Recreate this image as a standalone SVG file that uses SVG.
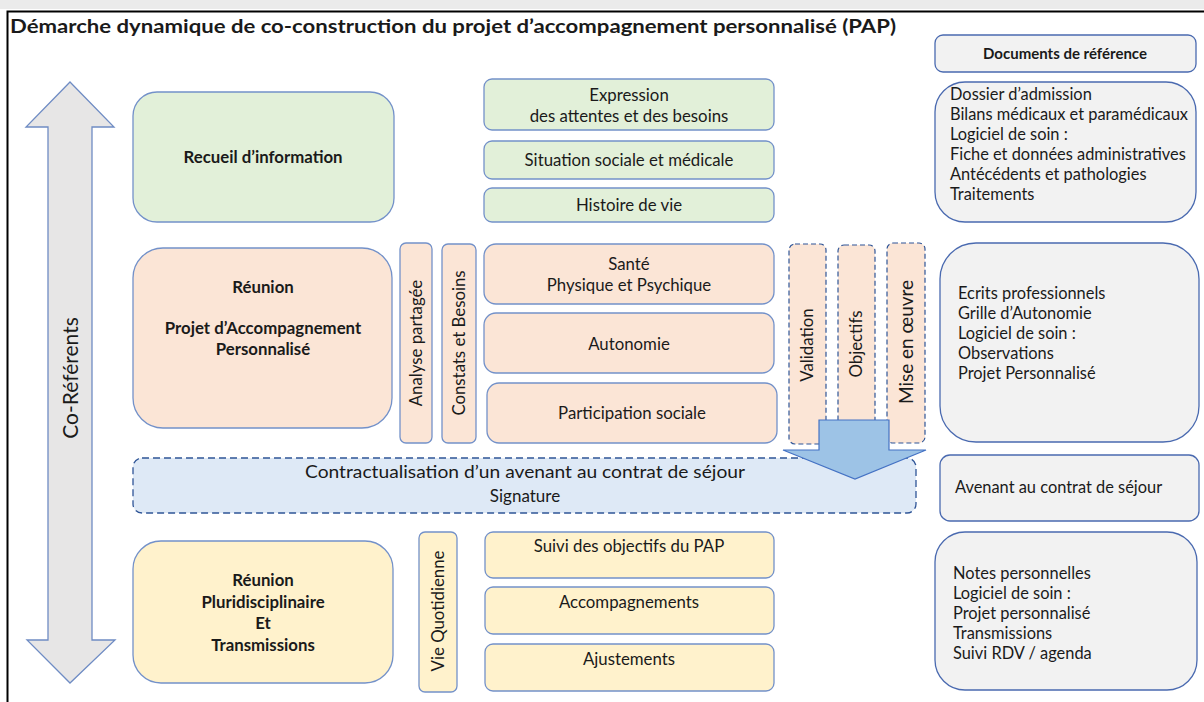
<svg xmlns="http://www.w3.org/2000/svg" width="1204" height="702" viewBox="0 0 1204 702">
<style>
text{font-family:"Lato","Liberation Sans",sans-serif;fill:#1a1a1a}
.t15{font-size:16.8px}
.t14{font-size:16.4px}
.tb{font-size:16.8px;font-weight:bold}
.c{text-anchor:middle}
.green{fill:#e2f0d9;stroke:#7391c9;stroke-width:1.3}
.peach{fill:#fbe5d6;stroke:#7391c9;stroke-width:1.3}
.peachd{fill:#fbe5d6;stroke:#2f5597;stroke-width:1.2;stroke-dasharray:5 3}
.yellow{fill:#fff2cc;stroke:#7391c9;stroke-width:1.3}
.gray{fill:#f2f2f2;stroke:#4a6ab0;stroke-width:1.3}
.blued{fill:#dee9f6;stroke:#2f5597;stroke-width:1.3;stroke-dasharray:7 4}
</style>
<rect x="0" y="0" width="1204" height="702" fill="#ffffff"/>
<rect x="0" y="0" width="1204" height="9" fill="#ebebeb"/>
<path d="M1204 11.5 H7.5 V702" fill="none" stroke="#000" stroke-width="2"/>
<text x="10" y="33" font-size="18" font-weight="bold" textLength="886" lengthAdjust="spacingAndGlyphs">Démarche dynamique de co-construction du projet d’accompagnement personnalisé (PAP)</text>

<g id="coreferents">
<path d="M70 82 L114 127 L92 127 L92 640 L115 640 L70 683 L27 640 L48 640 L48 127 L26 127 Z" fill="#e7e6e6" stroke="#6f8cc4" stroke-width="1.3"/>
<text transform="translate(78 378) rotate(-90)" font-size="21" class="c">Co-Référents</text>
</g>

<g id="recueil">
<rect x="133" y="92" width="261" height="130" rx="24" class="green"/>
<text x="263" y="163" class="tb c">Recueil d’information</text>
</g>
<g id="expression">
<rect x="484" y="79" width="290" height="51" rx="8" class="green"/>
<text x="629" y="101" class="t15 c">Expression</text>
<text x="629" y="122" class="t15 c">des attentes et des besoins</text>
</g>
<g id="situation">
<rect x="484" y="141" width="290" height="38" rx="8" class="green"/>
<text x="629" y="166" class="t15 c">Situation sociale et médicale</text>
</g>
<g id="histoire">
<rect x="484" y="188" width="290" height="34" rx="8" class="green"/>
<text x="629" y="211" class="t15 c">Histoire de vie</text>
</g>

<g id="reunion-pap">
<rect x="133" y="248" width="259" height="180" rx="30" class="peach"/>
<text x="263" y="293" class="tb c">Réunion</text>
<text x="263" y="334" class="tb c">Projet d’Accompagnement</text>
<text x="263" y="355" class="tb c">Personnalisé</text>
</g>
<g id="analyse">
<rect x="400" y="243" width="32" height="200" rx="6" class="peach"/>
<text transform="translate(422 343) rotate(-90)" class="t15 c">Analyse partagée</text>
</g>
<g id="constats">
<rect x="442" y="244" width="34" height="199" rx="6" class="peach"/>
<text transform="translate(465 343) rotate(-90)" class="t15 c">Constats et Besoins</text>
</g>
<g id="sante">
<rect x="484" y="244" width="290" height="60" rx="12" class="peach"/>
<text x="629" y="270" class="t15 c">Santé</text>
<text x="629" y="291" class="t15 c">Physique et Psychique</text>
</g>
<g id="autonomie">
<rect x="484" y="313" width="290" height="60" rx="12" class="peach"/>
<text x="629" y="350" class="t15 c">Autonomie</text>
</g>
<g id="participation">
<rect x="487" y="383" width="290" height="60" rx="12" class="peach"/>
<text x="632" y="419" class="t15 c">Participation sociale</text>
</g>
<g id="validation">
<rect x="789" y="244" width="37" height="200" rx="6" class="peachd"/>
<text transform="translate(813 345) rotate(-90)" class="t15 c">Validation</text>
</g>
<g id="objectifs">
<rect x="838" y="245" width="37" height="198" rx="6" class="peachd"/>
<text transform="translate(862 344) rotate(-90)" class="t15 c">Objectifs</text>
</g>
<g id="mise-en-oeuvre">
<rect x="887" y="243" width="38" height="200" rx="6" class="peachd"/>
<text transform="translate(913 342) rotate(-90)" font-size="19" class="c">Mise en œuvre</text>
</g>

<g id="contractualisation">
<rect x="133" y="458" width="783" height="55" rx="9" class="blued"/>
<text x="525" y="478" font-size="17" class="c" textLength="440" lengthAdjust="spacingAndGlyphs">Contractualisation d’un avenant au contrat de séjour</text>
<text x="525" y="502" font-size="17" class="c">Signature</text>
</g>

<g id="connectors">
<path d="M819 420 H889 V450 H926 L855 479 L783 450 H819 Z" fill="#9dc3e6" stroke="#4472c4" stroke-width="1.2"/>
</g>

<g id="reunion-pluri">
<rect x="133" y="541" width="260" height="142" rx="28" class="yellow"/>
<text x="263" y="586" class="tb c">Réunion</text>
<text x="263" y="608" class="tb c">Pluridisciplinaire</text>
<text x="263" y="629" class="tb c">Et</text>
<text x="263" y="651" class="tb c">Transmissions</text>
</g>
<g id="vie-quotidienne">
<rect x="419" y="532" width="38" height="160" rx="6" class="yellow"/>
<text transform="translate(444 611) rotate(-90)" class="t15 c">Vie Quotidienne</text>
</g>
<g id="suivi">
<rect x="485" y="532" width="289" height="46" rx="8" class="yellow"/>
<text x="629" y="552" class="t15 c">Suivi des objectifs du PAP</text>
</g>
<g id="accompagnements">
<rect x="485" y="587" width="289" height="47" rx="8" class="yellow"/>
<text x="629" y="608" class="t15 c">Accompagnements</text>
</g>
<g id="ajustements">
<rect x="485" y="644" width="289" height="47" rx="8" class="yellow"/>
<text x="629" y="665" class="t15 c">Ajustements</text>
</g>

<g id="documents">
<rect x="935" y="35" width="261" height="37" rx="8" class="gray"/>
<text x="1065" y="59" font-size="15" font-weight="bold" class="c">Documents de référence</text>
</g>
<g id="docs-recueil">
<rect x="935" y="82" width="261" height="140" rx="30" class="gray"/>
<text x="950" y="100" class="t14">Dossier d’admission</text>
<text x="950" y="120" class="t14">Bilans médicaux et paramédicaux</text>
<text x="950" y="140" class="t14">Logiciel de soin :</text>
<text x="950" y="160" class="t14">Fiche et données administratives</text>
<text x="950" y="180" class="t14">Antécédents et pathologies</text>
<text x="950" y="200" class="t14">Traitements</text>
</g>
<g id="docs-pap">
<rect x="940" y="243" width="259" height="199" rx="36" class="gray"/>
<text x="958" y="299" class="t14">Ecrits professionnels</text>
<text x="958" y="319" class="t14">Grille d’Autonomie</text>
<text x="958" y="339" class="t14">Logiciel de soin :</text>
<text x="958" y="359" class="t14">Observations</text>
<text x="958" y="379" class="t14">Projet Personnalisé</text>
</g>
<g id="docs-avenant">
<rect x="940" y="455" width="259" height="66" rx="10" class="gray"/>
<text x="955" y="493" class="t14">Avenant au contrat de séjour</text>
</g>
<g id="docs-suivi">
<rect x="935" y="532" width="262" height="158" rx="30" class="gray"/>
<text x="953" y="579" class="t14">Notes personnelles</text>
<text x="953" y="599" class="t14">Logiciel de soin :</text>
<text x="953" y="619" class="t14">Projet personnalisé</text>
<text x="953" y="639" class="t14">Transmissions</text>
<text x="953" y="659" class="t14">Suivi RDV / agenda</text>
</g>
</svg>
